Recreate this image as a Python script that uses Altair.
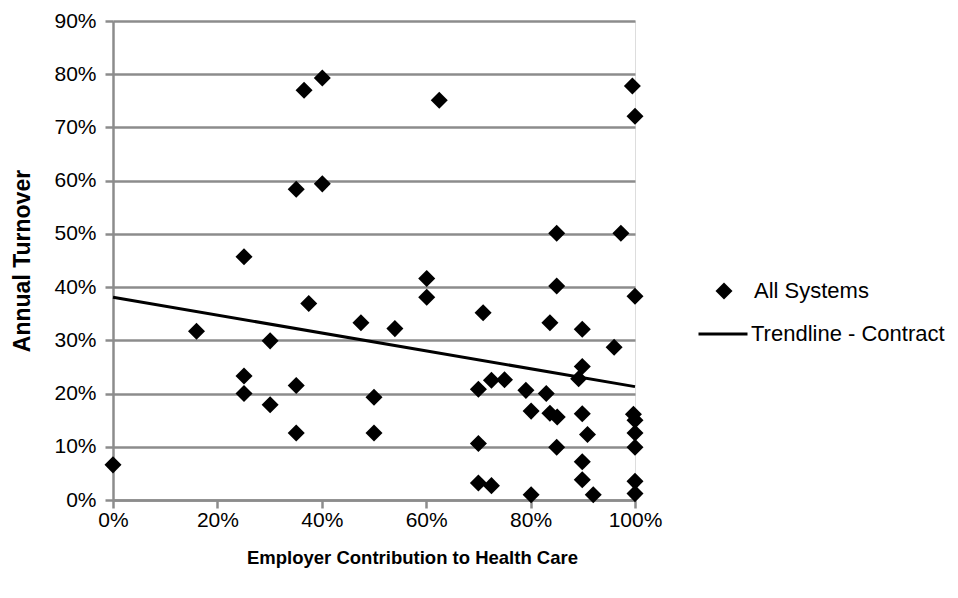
import altair as alt
import pandas as pd

# Employer contribution (%) and annual turnover (%)
contribution = [0, 16.0, 25.1, 25.1, 25.1, 30.1, 30.1, 35.1, 35.1, 37.5, 47.5, 50.0, 50.0, 54.0,
                36.6, 40.1, 35.1, 40.1, 62.5, 99.5, 100, 85.0, 97.3,
                60.1, 60.1, 70.9, 85.0, 100, 83.7, 89.9, 96.0, 89.9, 89.2,
                70.0, 72.5, 75.0, 79.1, 83.0, 80.1, 83.7, 85.1, 89.9, 99.7, 100, 100, 90.9,
                70.0, 85.0, 100, 89.9, 89.9, 92.0, 70.0, 72.5, 80.1, 100, 100]
turnover = [6.6, 31.7, 45.7, 23.3, 20.0, 29.9, 17.9, 21.5, 12.6, 36.9, 33.3, 19.3, 12.6, 32.2,
            77.0, 79.3, 58.4, 59.4, 75.1, 77.8, 72.1, 50.1, 50.1,
            41.6, 38.1, 35.2, 40.2, 38.3, 33.3, 32.1, 28.7, 25.1, 22.8,
            20.8, 22.5, 22.6, 20.6, 20.0, 16.7, 16.3, 15.6, 16.2, 16.1, 15.0, 12.6, 12.3,
            10.6, 9.9, 9.9, 7.2, 3.8, 1.0, 3.2, 2.7, 1.0, 3.5, 1.2]

trend_x = [0, 100]
trend_y = [38.1, 21.3]

series_points = "All Systems"
series_trend = "Trendline - Contract"

x_ticks = [0, 20, 40, 60, 80, 100]
y_ticks = [0, 10, 20, 30, 40, 50, 60, 70, 80, 90]

points_df = pd.DataFrame({"x": contribution, "y": turnover, "series": series_points})
trend_df = pd.DataFrame({"x": trend_x, "y": trend_y, "series": series_trend})

FONT = "Liberation Sans"
GRID = "#8c8c8c"

x_scale = alt.Scale(domain=[0, 100], nice=False, zero=False)
y_scale = alt.Scale(domain=[0, 90], nice=False, zero=False)

x_axis = alt.Axis(values=x_ticks, labelExpr="datum.value + '%'", grid=False,
                  labelFlush=False, labelOverlap=False,
                  title="Employer Contribution to Health Care",
                  domainColor=GRID, domainWidth=2.5, tickColor=GRID, tickWidth=2.5, tickSize=8,
                  labelFont=FONT, labelFontSize=21, labelColor="black", labelPadding=1,
                  titleFont=FONT, titleFontSize=18.5, titleFontWeight="bold", titleColor="black",
                  titleX=299, titleY=57, titleAlign="center", titleBaseline="middle")
y_axis = alt.Axis(values=y_ticks, labelExpr="datum.value + '%'", grid=True,
                  gridColor=GRID, gridWidth=2.5, gridOpacity=1, labelOverlap=False,
                  labelFlush=False,
                  title="Annual Turnover",
                  domainColor=GRID, domainWidth=2.5, tickColor=GRID, tickWidth=2.5, tickSize=8,
                  labelFont=FONT, labelFontSize=21, labelColor="black", labelPadding=9,
                  titleFont=FONT, titleFontSize=23, titleFontWeight="bold", titleColor="black",
                  titleX=-91, titleY=239.5, titleAngle=270, titleAlign="center",
                  titleBaseline="middle")

points = alt.Chart(points_df).mark_point(filled=True, color="black", opacity=1, size=290).encode(
    x=alt.X("x:Q", scale=x_scale, axis=x_axis),
    y=alt.Y("y:Q", scale=y_scale, axis=y_axis),
    shape=alt.Shape("series:N",
                    scale=alt.Scale(domain=[series_points], range=["diamond"]),
                    legend=alt.Legend(title=None, orient="none", legendX=600, legendY=259,
                                      labelFont=FONT, labelFontSize=22, labelColor="black",
                                      labelOffset=19, labelLimit=500, symbolSize=290,
                                      symbolFillColor="black", symbolStrokeColor="black",
                                      symbolOpacity=1, padding=0)),
)

trend = alt.Chart(trend_df).mark_line(strokeWidth=3).encode(
    x=alt.X("x:Q", scale=x_scale),
    y=alt.Y("y:Q", scale=y_scale),
    color=alt.Color("series:N",
                    scale=alt.Scale(domain=[series_trend], range=["black"]),
                    legend=alt.Legend(title=None, orient="none", legendX=584, legendY=287,
                                      labelFont=FONT, labelFontSize=22, labelColor="black",
                                      labelOffset=2, labelLimit=500, symbolType="stroke",
                                      symbolSize=2401, symbolStrokeWidth=3, padding=0)),
)

chart = alt.layer(trend, points).properties(
    width=522, height=479,
    autosize=alt.AutoSizeParams(type="none"),
    padding={"left": 105, "top": 13, "right": 314, "bottom": 80},
).configure_view(stroke=None).configure(background="white")

chart.save("out.html", embed_options={"renderer": "svg", "actions": False})
